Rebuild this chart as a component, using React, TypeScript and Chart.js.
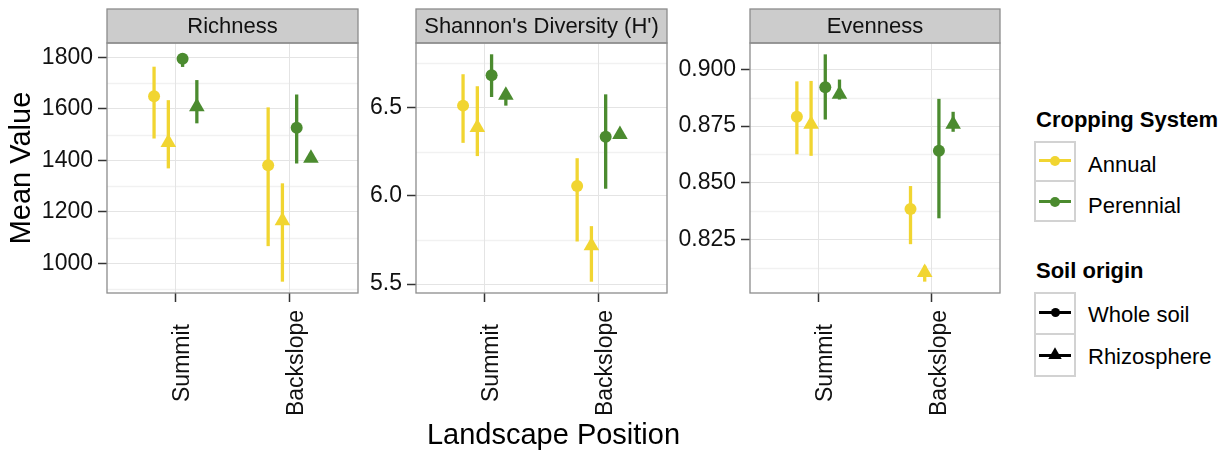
import React, { useEffect, useRef } from 'react';
import { Chart, registerables } from 'chart.js';

Chart.register(...registerables);

// ---------- data ----------
const categories = ['Summit', 'Backslope'];
const croppingSystems = ['Annual', 'Perennial'];
const soilOrigins = ['Whole soil', 'Rhizosphere'];
// series order: Annual/Whole, Annual/Rhizo, Perennial/Whole, Perennial/Rhizo
const seriesCropping = [0, 0, 1, 1];
const seriesOrigin = [0, 1, 0, 1];
const panelTitles = ['Richness', "Shannon's Diversity (H')", 'Evenness'];

const richnessMean = [[1649, 1381], [1470, 1166], [1795, 1527], [1608, 1408]];
const richnessLow = [[1485, 1067], [1369, 929], [1763, 1388], [1544, 1396]];
const richnessHigh = [[1764, 1606], [1634, 1311], [1812, 1656], [1712, 1425]];
const richnessTicks = [1000, 1200, 1400, 1600, 1800];
const richnessTickLabels = ['1000', '1200', '1400', '1600', '1800'];
const richnessRange = [885, 1856];

const shannonMean = [[6.511, 6.055], [6.387, 5.717], [6.683, 6.334], [6.57, 6.347]];
const shannonLow = [[6.3, 5.741], [6.225, 5.513], [6.56, 6.04], [6.511, 6.335]];
const shannonHigh = [[6.689, 6.213], [6.621, 5.828], [6.802, 6.575], [6.6, 6.365]];
const shannonTicks = [5.5, 6.0, 6.5];
const shannonTickLabels = ['5.5', '6.0', '6.5'];
const shannonRange = [5.449, 6.866];

const evennessMean = [[0.8791, 0.8385], [0.8758, 0.8105], [0.8921, 0.8641], [0.889, 0.8758]];
const evennessLow = [[0.8626, 0.823], [0.8619, 0.8065], [0.8779, 0.8344], [0.8867, 0.8725]];
const evennessHigh = [[0.8947, 0.8486], [0.8949, 0.8135], [0.9066, 0.887], [0.8955, 0.8813]];
const evennessTicks = [0.825, 0.85, 0.875, 0.9];
const evennessTickLabels = ['0.825', '0.850', '0.875', '0.900'];
const evennessRange = [0.8015, 0.9116];

// ---------- styling ----------
const FONT = '"Liberation Sans", Arial, Helvetica, sans-serif';
const cropColors = ['#F1D531', '#4B8B2F'];
const dodge = [-0.1875, -0.0625, 0.0625, 0.1875];
const STRIP_TOP = 9;

function minorValues(ticks: number[], range: number[]) {
  const step = ticks[1] - ticks[0];
  const out: number[] = [];
  for (let v = ticks[0] - step / 2; v <= range[1] + 1e-9; v += step) {
    if (v >= range[0]) out.push(v);
  }
  return out;
}

type PanelProps = {
  title: string;
  mean: number[][];
  low: number[][];
  high: number[][];
  ticks: number[];
  tickLabels: string[];
  range: number[];
  left: number;
  width: number;
  axisWidth: number;
  yTitle?: string;
};

function Panel(props: PanelProps) {
  const ref = useRef<HTMLCanvasElement>(null);
  useEffect(() => {
    const { title, mean, low, high, ticks, tickLabels, range, axisWidth, yTitle } = props;
    const minors = minorValues(ticks, range);
    const datasets = mean.map((row, s) => ({
      label: croppingSystems[seriesCropping[s]] + ' / ' + soilOrigins[seriesOrigin[s]],
      data: row.map((v, c) => ({ x: c + 1 + dodge[s], y: v, lo: low[s][c], hi: high[s][c] })),
      pointStyle: seriesOrigin[s] === 0 ? 'circle' : 'triangle',
      pointRadius: seriesOrigin[s] === 0 ? 6 : 9,
      pointHoverRadius: seriesOrigin[s] === 0 ? 6 : 9,
      backgroundColor: cropColors[seriesCropping[s]],
      borderColor: cropColors[seriesCropping[s]],
      borderWidth: 0,
      pointBorderWidth: 0,
      showLine: false,
    }));

    const decor = {
      id: 'panelDecor',
      beforeDraw(chart: any) {
        const { ctx, chartArea: a } = chart;
        const y = chart.scales.y;
        ctx.save();
        ctx.fillStyle = '#cccccc';
        ctx.fillRect(a.left, STRIP_TOP, a.right - a.left, a.top - STRIP_TOP);
        ctx.strokeStyle = '#f1f1f1';
        ctx.lineWidth = 1.4;
        minors.forEach((v) => {
          const py = Math.round(y.getPixelForValue(v)) + 0.5;
          ctx.beginPath();
          ctx.moveTo(a.left, py);
          ctx.lineTo(a.right, py);
          ctx.stroke();
        });
        ctx.restore();
      },
      beforeDatasetsDraw(chart: any) {
        const { ctx } = chart;
        const y = chart.scales.y;
        ctx.save();
        ctx.lineWidth = 3.3;
        ctx.lineCap = 'butt';
        chart.data.datasets.forEach((ds: any, i: number) => {
          const meta = chart.getDatasetMeta(i);
          meta.data.forEach((pt: any, j: number) => {
            const raw = ds.data[j];
            ctx.strokeStyle = ds.backgroundColor;
            ctx.beginPath();
            ctx.moveTo(pt.x, y.getPixelForValue(raw.lo));
            ctx.lineTo(pt.x, y.getPixelForValue(raw.hi));
            ctx.stroke();
          });
        });
        ctx.restore();
      },
      afterDraw(chart: any) {
        const { ctx, chartArea: a } = chart;
        const xs = chart.scales.x;
        ctx.save();
        ctx.strokeStyle = '#8c8c8c';
        ctx.lineWidth = 1.3;
        ctx.strokeRect(a.left, a.top, a.right - a.left, a.bottom - a.top);
        ctx.strokeRect(a.left, STRIP_TOP, a.right - a.left, a.top - STRIP_TOP);
        ctx.fillStyle = '#111111';
        ctx.font = '23px ' + FONT;
        ctx.textAlign = 'center';
        ctx.textBaseline = 'middle';
        categories.forEach((c, i) => {
          const px = xs.getPixelForValue(i + 1);
          ctx.save();
          ctx.translate(px + 7.5, 363);
          ctx.rotate(-Math.PI / 2);
          ctx.fillText(c, 0, 0);
          ctx.restore();
        });
        ctx.restore();
      },
    };

    const chart = new Chart(ref.current as HTMLCanvasElement, {
      type: 'scatter',
      data: { datasets: datasets as any },
      options: {
        animation: false,
        responsive: false,
        devicePixelRatio: 1,
        layout: { autoPadding: false, padding: { top: STRIP_TOP, right: 4, left: 0, bottom: 0 } },
        plugins: {
          legend: { display: false },
          tooltip: { enabled: false },
          title: {
            display: true,
            text: title,
            fullSize: false,
            color: '#111111',
            font: { family: FONT, size: 22, weight: 'normal', lineHeight: 1.2 },
            padding: { top: 5, bottom: 2.6 },
          },
        },
        scales: {
          x: {
            type: 'linear',
            min: 0.4,
            max: 2.6,
            offset: false,
            afterBuildTicks: (scale: any) => {
              scale.ticks = categories.map((_, i) => ({ value: i + 1 }));
            },
            afterFit: (scale: any) => {
              scale.height = 157;
            },
            ticks: { display: false },
            grid: {
              color: '#e4e4e4',
              lineWidth: 1,
              tickColor: '#333333',
              tickLength: 9,
              tickWidth: 1.5,
              drawTicks: true,
            },
            border: { display: false },
          },
          y: {
            type: 'linear',
            min: range[0],
            max: range[1],
            afterBuildTicks: (scale: any) => {
              scale.ticks = ticks.map((v) => ({ value: v }));
            },
            afterFit: (scale: any) => {
              scale.width = axisWidth;
            },
            ticks: {
              color: '#111111',
              font: { family: FONT, size: 23 },
              padding: 5,
              autoSkip: false,
              callback: (_v: any, idx: number) => tickLabels[idx],
            },
            grid: {
              color: '#e4e4e4',
              lineWidth: 1,
              tickColor: '#333333',
              tickLength: 9,
              tickWidth: 1.5,
              drawTicks: true,
            },
            border: { display: false },
            title: {
              display: !!yTitle,
              text: yTitle || '',
              color: '#000000',
              font: { family: FONT, size: 29, lineHeight: 1.2 },
              padding: { top: 5, bottom: 0 },
            },
          },
        },
      } as any,
      plugins: [decor],
    });
    return () => chart.destroy();
  }, []);
  return (
    <canvas
      ref={ref}
      width={props.width}
      height={450}
      style={{ position: 'absolute', left: props.left, top: 0, width: props.width, height: 450 }}
    />
  );
}

function Label({ text, left, capCenter, size, bold }: { text: string; left: number; capCenter: number; size: number; bold?: boolean }) {
  const L = size + 4;
  return (
    <div
      style={{
        position: 'absolute',
        left,
        top: capCenter - L / 2,
        height: L,
        lineHeight: L + 'px',
        fontSize: size,
        fontWeight: bold ? 'bold' : 'normal',
        whiteSpace: 'nowrap',
        color: '#000',
      }}
    >
      {text}
    </div>
  );
}

function KeyBox({ top, rowH, rows }: { top: number; rowH: number; rows: { color: string; shape: 'circle' | 'triangle'; size: number }[] }) {
  const boxLeft = 1034;
  const boxW = 42;
  return (
    <>
      <div
        style={{
          position: 'absolute',
          left: boxLeft,
          top,
          width: boxW,
          height: rowH * rows.length,
          border: '2px solid #d2d2d2',
          boxSizing: 'border-box',
          background: '#fff',
        }}
      />
      {rows.map((r, i) => {
        const cy = top + rowH * i + rowH / 2;
        const cx = boxLeft + boxW / 2;
        return (
          <React.Fragment key={i}>
            {i > 0 && (
              <div style={{ position: 'absolute', left: boxLeft, top: top + rowH * i - 1, width: boxW, height: 2, background: '#d2d2d2' }} />
            )}
            <div style={{ position: 'absolute', left: boxLeft + 5, top: cy - 1.6, width: boxW - 10, height: 3.2, background: r.color }} />
            {r.shape === 'circle' ? (
              <div
                style={{
                  position: 'absolute',
                  left: cx - r.size / 2,
                  top: cy - r.size / 2,
                  width: r.size,
                  height: r.size,
                  borderRadius: '50%',
                  background: r.color,
                }}
              />
            ) : (
              <div
                style={{
                  position: 'absolute',
                  left: cx - r.size / 2,
                  top: cy - (r.size * 0.866 * 2) / 3,
                  width: r.size,
                  height: r.size * 0.866,
                  clipPath: 'polygon(50% 0, 100% 100%, 0 100%)',
                  background: r.color,
                }}
              />
            )}
          </React.Fragment>
        );
      })}
    </>
  );
}

export default function App() {
  return (
    <div
      style={{
        position: 'fixed',
        left: 0,
        top: 0,
        width: 1226,
        height: 450,
        background: '#ffffff',
        fontFamily: FONT,
        overflow: 'hidden',
      }}
    >
      <Panel
        title={panelTitles[0]}
        mean={richnessMean}
        low={richnessLow}
        high={richnessHigh}
        ticks={richnessTicks}
        tickLabels={richnessTickLabels}
        range={richnessRange}
        left={0}
        width={362}
        axisWidth={107}
        yTitle="Mean Value"
      />
      <Panel
        title={panelTitles[1]}
        mean={shannonMean}
        low={shannonLow}
        high={shannonHigh}
        ticks={shannonTicks}
        tickLabels={shannonTickLabels}
        range={shannonRange}
        left={362}
        width={309}
        axisWidth={54}
      />
      <Panel
        title={panelTitles[2]}
        mean={evennessMean}
        low={evennessLow}
        high={evennessHigh}
        ticks={evennessTicks}
        tickLabels={evennessTickLabels}
        range={evennessRange}
        left={668}
        width={336}
        axisWidth={82}
      />
      <div
        style={{
          position: 'absolute',
          left: 0,
          width: 1107,
          top: 419.5,
          height: 29,
          lineHeight: '29px',
          fontSize: 29,
          textAlign: 'center',
          color: '#000',
          whiteSpace: 'nowrap',
        }}
      >
        Landscape Position
      </div>

      <Label text="Cropping System" left={1036} capCenter={120} size={22} bold />
      <KeyBox
        top={140.5}
        rowH={40.75}
        rows={croppingSystems.map((_, i) => ({ color: cropColors[i], shape: 'circle' as const, size: 10 }))}
      />
      <Label text={croppingSystems[0]} left={1088} capCenter={165} size={22} />
      <Label text={croppingSystems[1]} left={1088} capCenter={206} size={22} />

      <Label text="Soil origin" left={1036} capCenter={271} size={22} bold />
      <KeyBox
        top={291.5}
        rowH={42.6}
        rows={soilOrigins.map((_, i) => ({ color: '#000000', shape: i === 0 ? ('circle' as const) : ('triangle' as const), size: i === 0 ? 9 : 14 }))}
      />
      <Label text={soilOrigins[0]} left={1088} capCenter={314.5} size={22} />
      <Label text={soilOrigins[1]} left={1088} capCenter={356.5} size={22} />
    </div>
  );
}
